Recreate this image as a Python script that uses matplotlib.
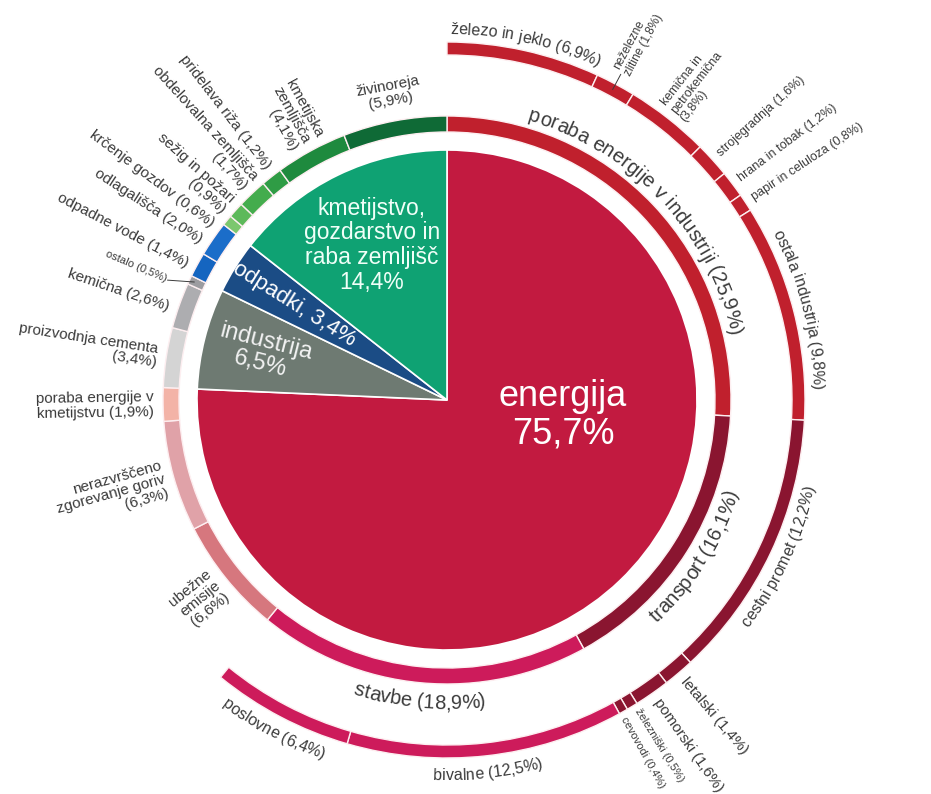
import numpy as np
import matplotlib
matplotlib.use("Agg")
import matplotlib.pyplot as plt
from matplotlib import font_manager
from matplotlib.ft2font import FT2Font

# shares of global emissions (%)
main_names = ["energija", "industrija", "odpadki,", "kmetijstvo,\ngozdarstvo in\nraba zemljišč"]
main_vals = [75.7, 6.5, 3.4, 14.4]

# middle ring; a trailing "\n" puts the percentage on its own line
mid_names = ["poraba energije v industriji", "transport", "stavbe",
             "ubežne\nemisije\n", "nerazvrščeno\nzgorevanje goriv\n",
             "poraba energije v\nkmetijstvu", "proizvodnja cementa\n", "kemična",
             "ostalo", "odpadne vode", "odlagališča", "krčenje gozdov",
             "sežig in požari\n", "obdelovalna zemljišča\n", "pridelava riža",
             "kmetijska\nzemljišča\n", "živinoreja\n"]
mid_vals = [25.9, 16.1, 18.9, 6.6, 6.3, 1.9, 3.4, 2.6, 0.5, 1.4, 2.0,
            0.6, 0.9, 1.7, 1.2, 4.1, 5.9]

# outer ring (only energy: industry, transport, buildings)
out_names = ["železo in jeklo", "neželezne\nzlitine", "kemična in\npetrokemična\n",
             "strojegradnja", "hrana in tobak", "papir in celuloza", "ostala industrija",
             "cestni promet", "letalski", "pomorski", "železniški", "cevovodi",
             "bivalne", "poslovne"]
out_vals = [6.9, 1.8, 3.8, 1.6, 1.2, 0.8, 9.8, 12.2, 1.4, 1.6, 0.5, 0.4, 12.5, 6.4]

main_colors = ["#C21A40", "#6E7A72", "#1B4C85", "#0FA273"]
mid_colors = ["#C0202D", "#8A1530", "#CD1B5B", "#D6777E", "#E0A2A8", "#F3B3A7",
              "#D4D4D4", "#ADADB0", "#9C9CA0", "#1565C0", "#1B6DC9",
              "#7CC76E", "#5DB95A", "#44AC4D", "#2F9C45", "#1E8A3E", "#0F6A36"]
out_colors = ["#C0202D"] * 7 + ["#8A1530"] * 5 + ["#CD1B5B"] * 2

W, H = 931, 794
CX, CY = 447, 394
R_PIE = 250
R_MID, W_MID = 284, 16
R_OUT, W_OUT = 358, 13
TXT = "#3b3b3b"
FONT = "Liberation Sans"

plt.rcParams["font.family"] = [FONT, "DejaVu Sans"]
_ft = FT2Font(font_manager.findfont(font_manager.FontProperties(family=FONT)))


def pct(v):
    return f"{v:.1f}%".replace(".", ",")


def lab(name, v):
    sep = "" if name.endswith("\n") else " "
    return f"{name}{sep}({pct(v)})"


def centers(vals):
    c = np.cumsum(vals)
    return (c - np.array(vals) / 2) / sum(main_vals) * 360


def polar(th, r):
    t = np.radians(th)
    return CX + r * np.sin(t), CY + r * np.cos(t)


def adv(ch, size):
    _ft.set_size(size, 100)
    return _ft.load_char(ord(ch)).linearHoriAdvance / 65536


def arc_text(s, th, r, size, outward=True, color=TXT):
    """write s along a circle, centred on angle th (deg, clockwise from top)"""
    d = np.degrees(np.array([adv(c, size) for c in s]) / r)
    sign = 1 if outward else -1
    a = th - sign * d.sum() / 2
    for c, dc in zip(s, d):
        t = a + sign * dc / 2
        x, y = polar(t, r)
        rot = -t if outward else 180 - t
        ax.text(x, y, c, size=size, color=color, rotation=rot,
                rotation_mode="anchor", ha="center", va="baseline")
        a += sign * dc


def radial(s, th, r, size, inward, color=TXT):
    x, y = polar(th, r)
    rot, ha = (270 - th, "right") if inward else (90 - th, "left")
    ax.text(x, y, s, size=size, color=color, rotation=rot, rotation_mode="anchor",
            ha=ha, va="center", multialignment=ha, linespacing=1.05)


fig = plt.figure(figsize=(W / 100, H / 100), dpi=100)
ax = fig.add_axes([0, 0, 1, 1])

kw = dict(startangle=90, counterclock=False, center=(CX, CY))
ax.pie(main_vals, colors=main_colors, radius=R_PIE,
       wedgeprops=dict(edgecolor="white", linewidth=1.2), **kw)
ax.pie(mid_vals, colors=mid_colors, radius=R_MID,
       wedgeprops=dict(width=W_MID, edgecolor="#fdeef0", linewidth=1), **kw)
ow, _ = ax.pie(out_vals + [sum(main_vals) - sum(out_vals)], colors=out_colors + ["none"],
               radius=R_OUT, wedgeprops=dict(width=W_OUT, edgecolor="#fdeef0", linewidth=1), **kw)
ow[-1].set_visible(False)
ax.set_xlim(0, W)
ax.set_ylim(0, H)
ax.axis("off")

main_c = centers(main_vals)
mid_c = centers(mid_vals)
out_c = centers(out_vals)

# pie labels
ax.text(CX + 116, CY - 15, f"{main_names[0]}\n{pct(main_vals[0])}", size=26,
        color="white", ha="center", va="center", linespacing=1.1)
x, y = polar(main_c[1], 190)
ax.text(x, y, f"{main_names[1]}\n{pct(main_vals[1])}", size=17, color="#f2f2f2",
        ha="center", va="center", rotation=270 - main_c[1], rotation_mode="anchor",
        linespacing=1.05)
x, y = polar(main_c[2], 180)
ax.text(x, y, f"{main_names[2]} {pct(main_vals[2])}", size=16, color="white",
        ha="center", va="center", rotation=270 - main_c[2], rotation_mode="anchor")
x, y = polar(main_c[3], 172)
ax.text(x, y, f"{main_names[3]}\n{pct(main_vals[3])}", size=16.5, color="#f0fff8",
        ha="center", va="center", linespacing=1.1)

# middle ring: sector names along the ring
arc_text(lab(mid_names[0], mid_vals[0]), mid_c[0], 291, 14.5, outward=True)
arc_text(lab(mid_names[1], mid_vals[1]), mid_c[1], 306, 14.5, outward=False)
arc_text(lab(mid_names[2], mid_vals[2]), mid_c[2], 309, 14.5, outward=False)

# left-hand labels, nudged where the slices are thin
nudge = {7: -0.9, 9: -0.9, 10: -1.6, 11: -2.4, 12: -0.4, 13: 1.1, 14: 0.6}
for i in range(3, 16):
    if i == 8:
        continue
    radial(lab(mid_names[i], mid_vals[i]), mid_c[i] + nudge.get(i, 0), 293, 11, inward=True)

radial(lab(mid_names[8], mid_vals[8]), mid_c[8] - 1.8, 306, 8, inward=True)
p0, p1 = polar(mid_c[8] - 1.8, 304), polar(mid_c[8], 279)
ax.plot([p0[0], p1[0]], [p0[1], p1[1]], color=TXT, lw=0.7)

x, y = polar(mid_c[16], 312)
ax.text(x, y, lab(mid_names[16], mid_vals[16]), size=11, color=TXT, ha="center",
        va="center", rotation=360 - mid_c[16], rotation_mode="anchor", linespacing=1.05)

# outer ring
arc_text(lab(out_names[0], out_vals[0]), out_c[0], 366, 11.5, outward=True)
arc_text(lab(out_names[6], out_vals[6]), out_c[6], 366, 11.5, outward=True)
arc_text(lab(out_names[7], out_vals[7]), out_c[7], 378, 11.5, outward=False)
arc_text(lab(out_names[12], out_vals[12]), out_c[12], 380, 11.5, outward=False)
arc_text(lab(out_names[13], out_vals[13]), out_c[13], 380, 11.5, outward=False)

radial(lab(out_names[1], out_vals[1]), out_c[1], 372, 8.5, inward=False)
p0, p1 = polar(out_c[1], 352), polar(out_c[1], 369)
ax.plot([p0[0], p1[0]], [p0[1], p1[1]], color=TXT, lw=0.7)
for i in (2, 3, 4, 5):
    radial(lab(out_names[i], out_vals[i]), out_c[i], 366, 9, inward=False)
for i in (8, 9):
    radial(lab(out_names[i], out_vals[i]), out_c[i], 366, 11, inward=False)
radial(lab(out_names[10], out_vals[10]), out_c[10] - 0.5, 363, 8, inward=False)
radial(lab(out_names[11], out_vals[11]), out_c[11] + 0.4, 363, 8, inward=False)

fig.savefig("out.png", dpi=100, facecolor="white")
